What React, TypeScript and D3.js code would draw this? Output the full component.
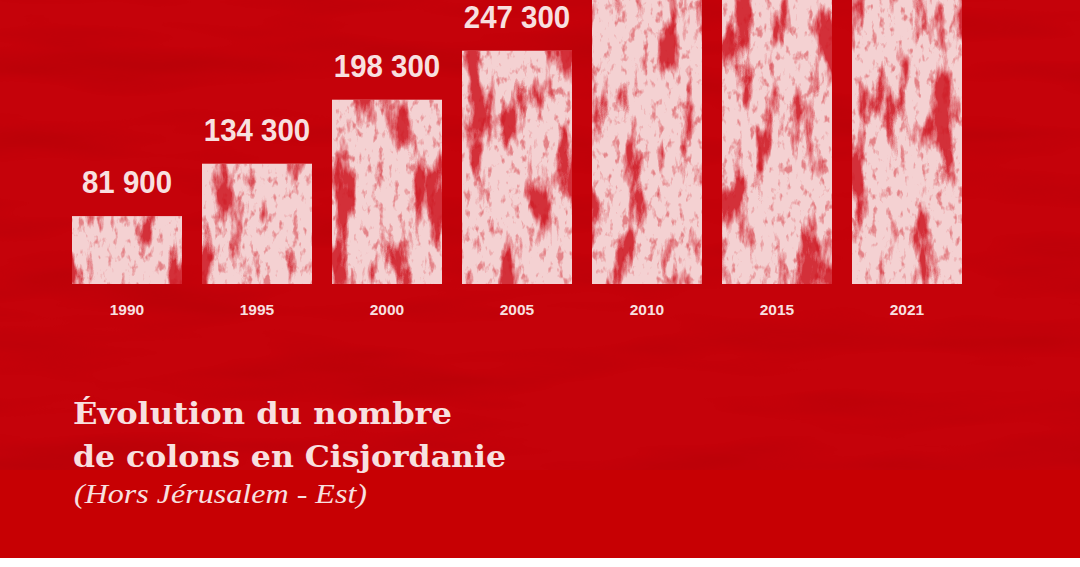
import React from "react";
import * as d3 from "d3";

// Settler population in the West Bank (excluding East Jerusalem)
const years = ["1990", "1995", "2000", "2005", "2010", "2015", "2021"];
const settlers = [81900, 134300, 198300, 247300, 311100, 385900, 465400];

const titleLines = ["Évolution du nombre", "de colons en Cisjordanie"];
const subtitle = "(Hors Jérusalem - Est)";

const W = 1080;
const H = 567;

const frLocale = d3.formatLocale({
  decimal: ",",
  thousands: " ",
  grouping: [3],
  currency: ["", " €"],
});
const fmt = frLocale.format(",");

export default function App() {
  const x = d3
    .scaleBand<string>()
    .domain(years)
    .range([72, 962])
    .paddingInner(20 / 130)
    .paddingOuter(0);

  const baseY = 284;
  const y = d3.scaleLinear().domain([14000, 298000]).range([baseY, 0]);

  const pink = "#f4d1d2";
  const labelColor = "#f8e0e0";
  const valueSize = 32;
  const labelGap = 23;

  // value labels whose text would sit entirely above the frame are skipped
  const visibleLabels = years
    .map((yr, i) => ({ yr, v: settlers[i], base: y(settlers[i]) - labelGap }))
    .filter((d) => d.base - valueSize * 0.72 > 0);

  const barRects = (fill: string) =>
    years.map((yr, i) => (
      <rect
        key={yr}
        x={x(yr)}
        y={y(settlers[i])}
        width={x.bandwidth()}
        height={baseY - y(settlers[i])}
        fill={fill}
      />
    ));

  return (
    <svg
      width={W}
      height={H}
      viewBox={`0 0 ${W} ${H}`}
      style={{ position: "fixed", left: 0, top: 0, display: "block" }}
    >
      <defs>
        {/* mottled red stains on the bars, streaking vertically */}
        <filter
          id="stains"
          x="0"
          y="-1"
          width="1"
          height="3"
          filterUnits="objectBoundingBox"
          colorInterpolationFilters="sRGB"
        >
          <feTurbulence type="fractalNoise" baseFrequency="0.045 0.013" numOctaves={5} seed={11} result="noise" />
          <feColorMatrix
            in="noise"
            type="matrix"
            values="0 0 0 0 0.80  0 0 0 0 0.03  0 0 0 0 0.08  6 0 0 0 -3.2"
            result="spots"
          />
          <feComposite in="spots" in2="SourceGraphic" operator="in" />
        </filter>
        {/* fine grain inside the stains */}
        <filter
          id="speckle"
          x="0"
          y="-1"
          width="1"
          height="3"
          filterUnits="objectBoundingBox"
          colorInterpolationFilters="sRGB"
        >
          <feTurbulence type="fractalNoise" baseFrequency="0.14 0.08" numOctaves={3} seed={4} result="noise" />
          <feColorMatrix
            in="noise"
            type="matrix"
            values="0 0 0 0 0.80  0 0 0 0 0.06  0 0 0 0 0.10  5 0 0 0 -2.85"
            result="spots"
          />
          <feComposite in="spots" in2="SourceGraphic" operator="in" />
        </filter>
        {/* faint mottling over the red backdrop */}
        <filter id="grain" x="0" y="0" width="1" height="1" colorInterpolationFilters="sRGB">
          <feTurbulence type="fractalNoise" baseFrequency="0.004 0.025" numOctaves={3} seed={2} result="n" />
          <feColorMatrix
            in="n"
            type="matrix"
            values="0 0 0 0 0.55  0 0 0 0 0  0 0 0 0 0  2.4 0 0 0 -1.1"
          />
        </filter>
      </defs>

      {/* backdrop */}
      <rect x={0} y={0} width={W} height={H} fill="#c5020a" />
      <rect x={0} y={0} width={W} height={470} fill="#000" filter="url(#grain)" opacity={0.18} />
      <rect x={0} y={470} width={W} height={88} fill="#c70003" />
      <rect x={0} y={558} width={W} height={9} fill="#ffffff" />

      {/* bars */}
      <g>{barRects(pink)}</g>
      <g filter="url(#stains)" opacity={0.8}>{barRects("#000")}</g>
      <g filter="url(#speckle)" opacity={0.4}>{barRects("#000")}</g>

      {/* value labels (condensed bold) */}
      <g
        fontFamily="'Liberation Sans', Arial, sans-serif"
        fontWeight="bold"
        fontSize={valueSize}
        fill={labelColor}
        textAnchor="middle"
      >
        {visibleLabels.map((d) => (
          <text
            key={d.yr}
            transform={`translate(${(x(d.yr) as number) + x.bandwidth() / 2},${d.base}) scale(0.92,1)`}
          >
            {fmt(d.v)}
          </text>
        ))}
      </g>

      {/* year labels */}
      <g
        fontFamily="'Liberation Sans', Arial, sans-serif"
        fontWeight="bold"
        fontSize={15.5}
        fill={labelColor}
        textAnchor="middle"
      >
        {years.map((yr) => (
          <text key={yr} x={(x(yr) as number) + x.bandwidth() / 2} y={315}>
            {yr}
          </text>
        ))}
      </g>

      {/* title */}
      <g fill={labelColor}>
        <text
          x={73}
          y={424}
          fontFamily="'DejaVu Serif', serif"
          fontWeight="bold"
          fontSize={30}
          textLength={379}
          lengthAdjust="spacingAndGlyphs"
        >
          {titleLines[0]}
        </text>
        <text
          x={73}
          y={467}
          fontFamily="'DejaVu Serif', serif"
          fontWeight="bold"
          fontSize={30}
          textLength={433}
          lengthAdjust="spacingAndGlyphs"
        >
          {titleLines[1]}
        </text>
        <text
          x={74}
          y={503}
          fontFamily="'Liberation Serif', serif"
          fontStyle="italic"
          fontSize={27}
          textLength={293}
          lengthAdjust="spacingAndGlyphs"
        >
          {subtitle}
        </text>
      </g>
    </svg>
  );
}
